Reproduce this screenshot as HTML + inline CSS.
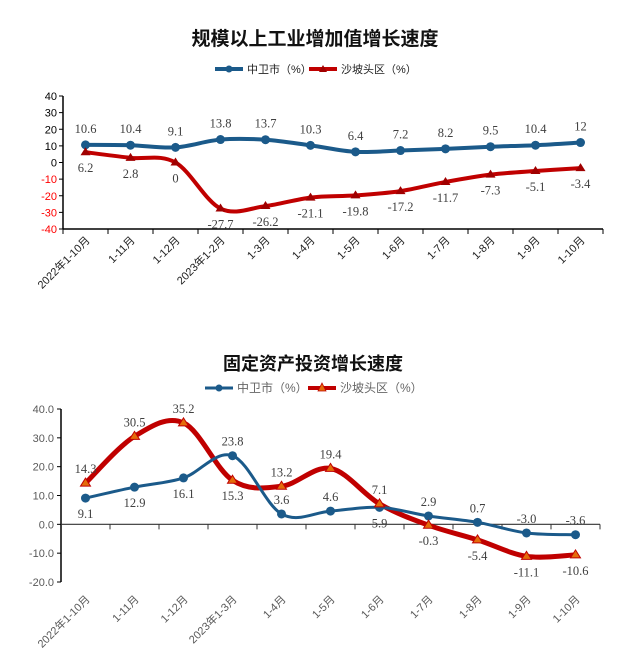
<!DOCTYPE html>
<html><head><meta charset="utf-8">
<style>
html,body{margin:0;padding:0;background:#fff;}
svg{display:block;font-family:"Liberation Sans","Noto Sans CJK SC",sans-serif;}
.lab{font-family:"Liberation Serif","Noto Serif CJK SC",serif;font-size:12.5px;fill:#404040;}
</style></head>
<body>
<svg id="svg" width="629" height="671" viewBox="0 0 629 671">
  <text x="315" y="45" text-anchor="middle" font-size="19" font-weight="bold" fill="#111">规模以上工业增加值增长速度</text>
  <g>
    <line x1="215" y1="69" x2="243" y2="69" stroke="#1b5a8a" stroke-width="4"/>
    <circle cx="229" cy="69" r="3.5" fill="#1b5a8a"/>
    <text x="247" y="73" font-size="11" fill="#222">中卫市（%）</text>
    <line x1="309" y1="69" x2="337" y2="69" stroke="#c00000" stroke-width="4"/>
    <path d="M323 65 L327 72 L319 72 Z" fill="#a00000"/>
    <text x="341" y="73" font-size="11" fill="#222">沙坡头区（%）</text>
  </g>
  <text x="313" y="370" text-anchor="middle" font-size="18" font-weight="bold" fill="#111">固定资产投资增长速度</text>
  <g>
    <line x1="205" y1="388" x2="233" y2="388" stroke="#1b5a8a" stroke-width="3"/>
    <circle cx="219" cy="388" r="3.5" fill="#1b5a8a"/>
    <text x="237" y="392" font-size="12" fill="#666">中卫市（%）</text>
    <line x1="308" y1="388" x2="336" y2="388" stroke="#c00000" stroke-width="4"/>
    <path d="M322 383 L326 391 L318 391 Z" fill="#e46c0a" stroke="#c00000" stroke-width="0.8"/>
    <text x="340" y="392" font-size="12" fill="#666">沙坡头区（%）</text>
  </g>
  <g id="c1"></g>
  <g id="c2"></g>
</svg>
<script>
// Chart 1 data
const cats1 = ["2022年1-10月","1-11月","1-12月","2023年1-2月","1-3月","1-4月","1-5月","1-6月","1-7月","1-8月","1-9月","1-10月"];
const zw1 = [10.6,10.4,9.1,13.8,13.7,10.3,6.4,7.2,8.2,9.5,10.4,12];
const spt1 = [6.2,2.8,0,-27.7,-26.2,-21.1,-19.8,-17.2,-11.7,-7.3,-5.1,-3.4];
const ticks1 = [40,30,20,10,0,-10,-20,-30,-40];
// Chart 2 data
const cats2 = ["2022年1-10月","1-11月","1-12月","2023年1-3月","1-4月","1-5月","1-6月","1-7月","1-8月","1-9月","1-10月"];
const zw2 = [9.1,12.9,16.1,23.8,3.6,4.6,5.9,2.9,0.7,-3.0,-3.6];
const spt2 = [14.3,30.5,35.2,15.3,13.2,19.4,7.1,-0.3,-5.4,-11.1,-10.6];
const ticks2 = [40,30,20,10,0,-10,-20];
const zwPos2 = ["b","b","b","a","a","a","b","a","a","a","a"];
const sptPos2 = ["a","a","a","b","a","a","a","b","b","b","b"];

const NS="http://www.w3.org/2000/svg";
function mk(parent,tag,attrs){const e=document.createElementNS(NS,tag);for(const k in attrs)e.setAttribute(k,attrs[k]);parent.appendChild(e);return e;}
function smooth(pts){let d="M"+pts[0][0]+" "+pts[0][1];for(let i=0;i<pts.length-1;i++){const p0=pts[i-1]||pts[i],p1=pts[i],p2=pts[i+1],p3=pts[i+2]||p2;const t=6;d+=" C"+(p1[0]+(p2[0]-p0[0])/t)+" "+(p1[1]+(p2[1]-p0[1])/t)+" "+(p2[0]-(p3[0]-p1[0])/t)+" "+(p2[1]-(p3[1]-p1[1])/t)+" "+p2[0]+" "+p2[1];}return d;}

// ---- Chart 1 ----
(function(){
const g=document.getElementById('c1');
const x0=63,x1=603,yTop=96,yBot=229,vmax=40,vmin=-40;
const n=cats1.length,step=(x1-x0)/n;
const X=i=>x0+step*(i+0.5);
const Y=v=>yTop+(vmax-v)/(vmax-vmin)*(yBot-yTop);
mk(g,'line',{x1:x0,y1:yTop,x2:x0,y2:yBot,stroke:'#000','stroke-width':1.5});
mk(g,'line',{x1:x0,y1:yBot,x2:x1,y2:yBot,stroke:'#000','stroke-width':1.5});
ticks1.forEach(t=>{
  mk(g,'line',{x1:x0-4,y1:Y(t),x2:x0,y2:Y(t),stroke:'#000'});
  const tx=mk(g,'text',{x:x0-6,y:Y(t)+4,'text-anchor':'end','font-size':11,fill:t<0?'#ff0000':'#000'});
  tx.textContent=t;
  
  
});
for(let i=0;i<=n;i++){mk(g,'line',{x1:x0+step*i,y1:yBot,x2:x0+step*i,y2:yBot+5,stroke:'#000'});}
cats1.forEach((c,i)=>{
  const tx=mk(g,'text',{x:X(i)+5,y:yBot+12,'text-anchor':'end','font-size':11,fill:'#222',transform:'rotate(-45 '+(X(i)+5)+' '+(yBot+12)+')'});
  tx.textContent=c;
  
  
});
const pb=zw1.map((v,i)=>[X(i),Y(v)]);
const pr=spt1.map((v,i)=>[X(i),Y(v)]);
const lb=mk(g,'path',{d:smooth(pb),fill:'none',stroke:'#1b5a8a','stroke-width':4});


const lr=mk(g,'path',{d:smooth(pr),fill:'none',stroke:'#c00000','stroke-width':4});


pb.forEach((p,i)=>{
  const c=mk(g,'circle',{cx:p[0],cy:p[1],r:4.5,fill:'#1b5a8a'});
  
  
  const t=mk(g,'text',{x:p[0],y:p[1]-12,'text-anchor':'middle',class:'lab'});
  t.textContent=zw1[i];
  
  
});
pr.forEach((p,i)=>{
  const m=mk(g,'path',{d:'M'+p[0]+' '+(p[1]-5)+' L'+(p[0]+5)+' '+(p[1]+3)+' L'+(p[0]-5)+' '+(p[1]+3)+' Z',fill:'#a00000'});
  
  
  const t=mk(g,'text',{x:p[0],y:p[1]+20,'text-anchor':'middle',class:'lab'});
  t.textContent=spt1[i];
  
  
});
})();

// ---- Chart 2 ----
(function(){
const g=document.getElementById('c2');
const x0=61,x1=600,yTop=409,yBot=582,vmax=40,vmin=-20;
const n=cats2.length,step=(x1-x0)/n;
const X=i=>x0+step*(i+0.5);
const Y=v=>yTop+(vmax-v)/(vmax-vmin)*(yBot-yTop);
mk(g,'line',{x1:x0,y1:yTop,x2:x0,y2:yBot,stroke:'#000','stroke-width':1.5});
mk(g,'line',{x1:x0,y1:Y(0),x2:x1,y2:Y(0),stroke:'#333','stroke-width':1.2});
ticks2.forEach(t=>{
  mk(g,'line',{x1:x0-4,y1:Y(t),x2:x0,y2:Y(t),stroke:'#000'});
  const tx=mk(g,'text',{x:x0-7,y:Y(t)+4,'text-anchor':'end','font-size':11,fill:'#595959'});
  tx.textContent=t.toFixed(1);
  
  
});
for(let i=1;i<=n;i++){mk(g,'line',{x1:x0+step*i,y1:Y(0),x2:x0+step*i,y2:Y(0)+5,stroke:'#333'});}
cats2.forEach((c,i)=>{
  const tx=mk(g,'text',{x:X(i)+5,y:600,'text-anchor':'end','font-size':11,fill:'#595959',transform:'rotate(-45 '+(X(i)+5)+' 600)'});
  tx.textContent=c;
  
  
});
const pb=zw2.map((v,i)=>[X(i),Y(v)]);
const pr=spt2.map((v,i)=>[X(i),Y(v)]);
const lr=mk(g,'path',{d:smooth(pr),fill:'none',stroke:'#c00000','stroke-width':5});


const lb=mk(g,'path',{d:smooth(pb),fill:'none',stroke:'#1b5a8a','stroke-width':3});


pb.forEach((p,i)=>{
  const c=mk(g,'circle',{cx:p[0],cy:p[1],r:4.5,fill:'#1b5a8a'});
  
  
  const t=mk(g,'text',{x:p[0],y:zwPos2[i]==='a'?p[1]-10:p[1]+20,'text-anchor':'middle',class:'lab'});
  t.textContent=zw2[i].toFixed(1);
  
  
});
pr.forEach((p,i)=>{
  const m=mk(g,'path',{d:'M'+p[0]+' '+(p[1]-5)+' L'+(p[0]+5)+' '+(p[1]+3)+' L'+(p[0]-5)+' '+(p[1]+3)+' Z',fill:'#e46c0a',stroke:'#c00000','stroke-width':1});
  
  
  const t=mk(g,'text',{x:p[0],y:sptPos2[i]==='a'?p[1]-10:p[1]+20,'text-anchor':'middle',class:'lab'});
  t.textContent=spt2[i].toFixed(1);
  
  
});
})();
</script>
</body></html>
